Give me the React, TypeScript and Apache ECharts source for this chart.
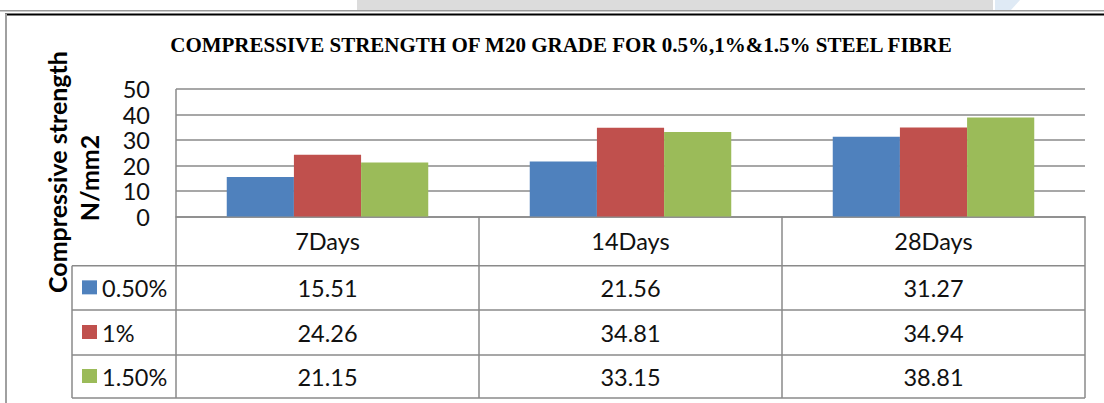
import React, { useEffect, useRef } from "react";
import * as echarts from "echarts";

// ---- data ----
const categories = ["7Days", "14Days", "28Days"];
const seriesNames = ["0.50%", "1%", "1.50%"];
const values050 = [15.51, 21.56, 31.27];
const values100 = [24.26, 34.81, 34.94];
const values150 = [21.15, 33.15, 38.81];
const seriesValues = [values050, values100, values150];
const seriesColors = ["#4F81BD", "#C0504D", "#9BBB59"];
const yMin = 0;
const yMax = 50;
const yInterval = 10;
const titleText = "COMPRESSIVE STRENGTH OF M20 GRADE FOR 0.5%,1%&1.5% STEEL FIBRE";
const yTitleLine1 = "Compressive strength";
const yTitleLine2 = "N/mm2";

// ---- layout ----
const W = 1104;
const H = 403;
const GL = 176; // plot left
const GR = 1085; // plot right
const GT = 89; // plot top
const GB = 216.5; // plot bottom (0 line)
const HEADER_BOTTOM = 265.7;
const ROW_BOTTOMS = [310, 355, 398];
const LEGEND_LEFT = 72;
const LINE = "#8a8a8a";
const FONT = "Lato, 'Open Sans', sans-serif";
const FS = 23.5;

function textEl(x: number, y: number, text: string, opts: any = {}) {
  return {
    type: "text",
    x,
    y,
    rotation: opts.rotation || 0,
    silent: true,
    style: {
      text,
      fill: opts.fill || "#111",
      font: opts.font || `${FS}px ${FONT}`,
      align: opts.align || "center",
      verticalAlign: "middle",
      textAlign: opts.align || "center",
      textVerticalAlign: "middle",
    },
  };
}

function lineEl(x1: number, y1: number, x2: number, y2: number, color = LINE, w = 1.5) {
  return {
    type: "line",
    silent: true,
    shape: { x1, y1, x2, y2 },
    style: { stroke: color, lineWidth: w },
  };
}

export default function App() {
  const ref = useRef<HTMLDivElement>(null);

  useEffect(() => {
    if (!ref.current) return;
    const chart = echarts.init(ref.current, null, { renderer: "svg" });

    const n = categories.length;
    const colW = (GR - GL) / n;
    const rowTops = [HEADER_BOTTOM, ROW_BOTTOMS[0], ROW_BOTTOMS[1]];
    const rowCenters = rowTops.map((t, i) => (t + ROW_BOTTOMS[i]) / 2);

    const graphics: any[] = [];
    // page decoration
    graphics.push({ type: "rect", silent: true, shape: { x: 357, y: 0, width: 636, height: 10 }, style: { fill: "#dcdcdc" } });
    graphics.push({ type: "polygon", silent: true, shape: { points: [[995, 0], [1020, 0], [1011, 10], [995, 10]] }, style: { fill: "#dfeaf5" } });
    graphics.push(lineEl(0, 10.8, W, 10.8, "#9a9a9a", 1.5));
    graphics.push(lineEl(5, 14.5, W, 14.5, "#000", 2));
    graphics.push(lineEl(6, 14, 6, H, "#a0a0a0", 2));

    // title
    graphics.push(textEl(561, 45, titleText, { fill: "#000", font: `bold 21px 'Liberation Serif', 'Times New Roman', serif` }));

    // y axis title (rotated)
    graphics.push(textEl(57, 172, yTitleLine1, { fill: "#000", rotation: Math.PI / 2, font: `bold 25px ${FONT}` }));
    graphics.push(textEl(89, 178, yTitleLine2, { fill: "#000", rotation: Math.PI / 2, font: `bold 25px ${FONT}` }));

    // table lines
    graphics.push(lineEl(GL, GT, GL, ROW_BOTTOMS[2]));
    for (let i = 1; i <= n; i++) {
      graphics.push(lineEl(GL + i * colW, GB, GL + i * colW, ROW_BOTTOMS[2]));
    }
    graphics.push(lineEl(LEGEND_LEFT, HEADER_BOTTOM, LEGEND_LEFT, ROW_BOTTOMS[2]));
    graphics.push(lineEl(LEGEND_LEFT, HEADER_BOTTOM, GR, HEADER_BOTTOM));
    ROW_BOTTOMS.forEach((y) => graphics.push(lineEl(LEGEND_LEFT, y, GR, y)));

    // legend keys + names
    seriesNames.forEach((name, i) => {
      const cy = rowCenters[i];
      graphics.push({
        type: "rect",
        silent: true,
        shape: { x: 82, y: cy - 7.5, width: 15, height: 14 },
        style: { fill: seriesColors[i] },
      });
      graphics.push(textEl(102, cy, name, { align: "left" }));
    });

    // data values
    seriesValues.forEach((vals, i) => {
      vals.forEach((v, j) => {
        graphics.push(textEl(GL + (j + 0.5) * colW, rowCenters[i], v.toFixed(2)));
      });
    });

    const option: any = {
      animation: false,
      backgroundColor: "#fff",
      grid: { left: GL, top: GT, width: GR - GL, height: GB - GT, containLabel: false },
      xAxis: {
        type: "category",
        data: categories,
        axisLine: { show: true, lineStyle: { color: LINE, width: 1.5 } },
        axisTick: { show: false },
        axisLabel: { color: "#111", fontFamily: FONT, fontSize: FS, margin: 12.5, lineHeight: 24 },
        splitLine: { show: false },
      },
      yAxis: {
        type: "value",
        min: yMin,
        max: yMax,
        interval: yInterval,
        axisLine: { show: false },
        axisTick: { show: false },
        axisLabel: { color: "#111", fontFamily: FONT, fontSize: FS, margin: 26 },
        splitLine: { show: true, lineStyle: { color: LINE, width: 1.5 } },
      },
      series: seriesNames.map((name, i) => ({
        name,
        type: "bar",
        data: seriesValues[i],
        barGap: "0%",
        barCategoryGap: "33.5%",
        itemStyle: { color: seriesColors[i] },
      })),
      graphic: graphics,
    };
    chart.setOption(option);
    return () => chart.dispose();
  }, []);

  return (
    <div
      ref={ref}
      style={{ position: "absolute", left: 0, top: 0, width: W, height: H, background: "#fff" }}
    />
  );
}
